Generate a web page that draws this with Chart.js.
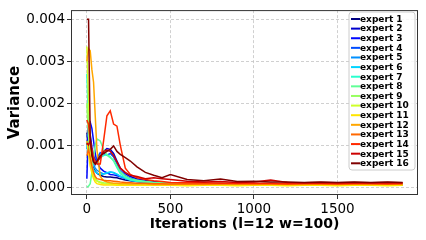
<!DOCTYPE html>
<html>
<head>
<meta charset="utf-8">
<script src="https://cdn.jsdelivr.net/npm/chart.js@4.4.0/dist/chart.umd.min.js"></script>
<style>
  html, body { margin: 0; padding: 0; background: #fff; }
  #wrap { width: 426px; height: 240px; }
</style>
</head>
<body>
<div id="wrap"><canvas id="varianceChart" width="426" height="240"></canvas></div>
<script>
// Iteration positions shared by every expert curve
const iters = [0, 10, 20, 30, 40, 50, 60, 80, 100, 120, 140, 160, 180, 200, 230, 260, 300, 350, 400, 450,
    500, 600, 700, 800, 900, 1000, 1100, 1200, 1300, 1400, 1500, 1600, 1700, 1800, 1890];

// Variance per expert, in units of 1e-3
const expert1 = [1.30,1.00,0.75,0.55,0.45,0.38,0.33,0.28,0.25,0.24,0.24,0.23,0.22,0.20,0.17,0.15,0.13,0.11,0.10,0.09,0.08,0.07,0.06,0.06,0.05,0.06,0.05,0.05,0.06,0.05,0.05,0.06,0.05,0.05,0.05];
const expert2 = [1.00,1.45,1.25,0.95,0.75,0.65,0.60,0.70,0.85,0.92,0.90,0.80,0.62,0.45,0.32,0.25,0.20,0.16,0.13,0.11,0.09,0.08,0.07,0.07,0.06,0.06,0.06,0.06,0.05,0.06,0.06,0.05,0.06,0.06,0.05];
const expert3 = [0.20,1.50,1.55,1.40,1.10,0.80,0.60,0.45,0.38,0.34,0.30,0.29,0.27,0.25,0.21,0.18,0.15,0.12,0.10,0.09,0.08,0.07,0.06,0.06,0.06,0.05,0.05,0.06,0.05,0.05,0.06,0.05,0.05,0.05,0.05];
const expert4 = [1.20,1.30,1.05,0.85,0.65,0.55,0.68,0.82,0.80,0.76,0.80,0.72,0.55,0.38,0.27,0.21,0.17,0.14,0.12,0.10,0.09,0.08,0.07,0.07,0.06,0.07,0.06,0.06,0.06,0.07,0.06,0.06,0.06,0.06,0.06];
const expert5 = [0.90,1.10,0.90,0.70,0.55,0.45,0.40,0.35,0.31,0.33,0.36,0.34,0.30,0.25,0.20,0.16,0.13,0.11,0.10,0.09,0.08,0.07,0.07,0.06,0.06,0.06,0.06,0.07,0.06,0.06,0.07,0.06,0.06,0.06,0.06];
const expert6 = [1.00,0.80,0.62,0.50,0.42,0.36,0.33,0.30,0.31,0.34,0.36,0.35,0.31,0.26,0.22,0.18,0.15,0.12,0.10,0.09,0.08,0.08,0.07,0.07,0.07,0.06,0.07,0.06,0.06,0.07,0.06,0.07,0.06,0.06,0.06];
const expert7 = [2.70,1.50,0.90,0.72,0.62,0.56,0.60,0.70,0.75,0.78,0.72,0.62,0.46,0.32,0.22,0.17,0.14,0.12,0.10,0.09,0.08,0.08,0.07,0.09,0.07,0.07,0.08,0.07,0.07,0.08,0.07,0.09,0.07,0.07,0.07];
const expert8 = [0.00,0.02,0.08,0.35,0.70,1.00,1.15,1.10,0.90,0.76,0.70,0.64,0.50,0.36,0.26,0.20,0.16,0.13,0.11,0.10,0.09,0.08,0.08,0.07,0.07,0.08,0.07,0.07,0.08,0.07,0.07,0.07,0.08,0.07,0.07];
const expert9 = [2.00,1.20,0.70,0.40,0.25,0.18,0.15,0.12,0.10,0.09,0.09,0.08,0.08,0.07,0.07,0.06,0.06,0.06,0.05,0.05,0.05,0.05,0.05,0.05,0.04,0.05,0.05,0.04,0.05,0.05,0.04,0.05,0.05,0.04,0.05];
const expert10 = [3.35,2.00,1.00,0.50,0.30,0.20,0.14,0.10,0.08,0.07,0.07,0.06,0.06,0.06,0.05,0.05,0.05,0.05,0.04,0.04,0.04,0.04,0.04,0.04,0.04,0.04,0.04,0.04,0.04,0.04,0.04,0.04,0.04,0.04,0.04];
const expert11 = [1.10,0.80,0.50,0.34,0.20,0.12,0.08,0.06,0.05,0.05,0.05,0.05,0.04,0.04,0.04,0.04,0.04,0.04,0.04,0.04,0.04,0.03,0.04,0.04,0.03,0.04,0.04,0.03,0.04,0.04,0.03,0.04,0.04,0.03,0.04];
const expert12 = [3.00,3.30,3.25,2.80,2.50,1.70,0.90,0.25,0.15,0.12,0.10,0.09,0.09,0.08,0.08,0.07,0.07,0.07,0.06,0.06,0.06,0.07,0.06,0.09,0.07,0.06,0.07,0.06,0.06,0.07,0.06,0.07,0.06,0.08,0.06];
const expert13 = [0.75,0.90,0.70,0.50,0.35,0.25,0.20,0.18,0.16,0.15,0.15,0.14,0.13,0.12,0.11,0.10,0.09,0.09,0.08,0.08,0.07,0.07,0.08,0.07,0.07,0.08,0.07,0.07,0.07,0.08,0.07,0.07,0.08,0.07,0.07];
const expert14 = [1.60,1.50,1.10,0.90,0.70,0.60,0.55,0.55,1.10,1.70,1.82,1.50,1.45,1.00,0.45,0.30,0.22,0.18,0.15,0.13,0.11,0.10,0.10,0.09,0.09,0.09,0.09,0.08,0.09,0.09,0.08,0.09,0.09,0.08,0.09];
const expert15 = [1.05,1.00,1.10,0.80,0.60,0.55,0.60,0.70,0.85,0.88,0.85,0.75,0.60,0.45,0.35,0.28,0.25,0.20,0.22,0.20,0.18,0.14,0.12,0.13,0.11,0.12,0.17,0.11,0.10,0.11,0.10,0.11,0.10,0.11,0.10];
const expert16 = [4.00,4.00,1.20,0.75,0.60,0.55,0.62,0.75,0.80,0.85,0.90,0.98,0.85,0.78,0.70,0.62,0.48,0.35,0.28,0.22,0.30,0.18,0.15,0.19,0.13,0.14,0.12,0.12,0.11,0.12,0.11,0.12,0.11,0.12,0.11];

const expertSeries = [expert1, expert2, expert3, expert4, expert5, expert6, expert7, expert8,
    expert9, expert10, expert11, expert12, expert13, expert14, expert15, expert16];
const expertLabels = expertSeries.map((_, i) => 'expert ' + (i + 1));

const yTicks = [0, 0.001, 0.002, 0.003, 0.004];
const yTickLabels = ['0.000', '0.001', '0.002', '0.003', '0.004'];
const xTicks = [0, 500, 1000, 1500];

// matplotlib "jet" colours sampled at 16 points
const jetColors = ['#000080', '#0000cd', '#0008ff', '#004dff', '#0091ff', '#00d4ff', '#29ffce', '#60ff97',
    '#97ff60', '#ceff29', '#ffe500', '#ffa700', '#ff6800', '#ff2900', '#cd0000', '#800000'];

const FONT = "'DejaVu Sans', sans-serif";

// Frame around plot + legend box drawn in the top-right corner
const framePlugin = {
    id: 'frame',
    afterDatasetsDraw(chart) {
        const { ctx, chartArea: a } = chart;
        ctx.save();
        ctx.strokeStyle = '#333';
        ctx.lineWidth = 1;
        ctx.strokeRect(a.left + 0.5, a.top + 0.5, a.right - a.left - 1, a.bottom - a.top - 1);

        // legend
        const bx = 349, by = 12, bw = 66, bh = 158, r = 3;
        ctx.fillStyle = 'rgba(255,255,255,0.85)';
        ctx.strokeStyle = '#cccccc';
        ctx.beginPath();
        ctx.moveTo(bx + r, by);
        ctx.arcTo(bx + bw, by, bx + bw, by + bh, r);
        ctx.arcTo(bx + bw, by + bh, bx, by + bh, r);
        ctx.arcTo(bx, by + bh, bx, by, r);
        ctx.arcTo(bx, by, bx + bw, by, r);
        ctx.closePath();
        ctx.fill();
        ctx.stroke();

        ctx.font = 'bold 9px ' + FONT;
        ctx.textBaseline = 'middle';
        ctx.textAlign = 'left';
        chart.data.datasets.forEach((ds, i) => {
            const y = by + 7 + i * 9.62;
            ctx.strokeStyle = ds.borderColor;
            ctx.lineWidth = 2;
            ctx.beginPath();
            ctx.moveTo(bx + 2, y);
            ctx.lineTo(bx + 11, y);
            ctx.stroke();
            ctx.fillStyle = '#000';
            ctx.fillText(ds.label, bx + 11, y + 0.5);
        });
        ctx.restore();
    }
};

const datasets = expertSeries.map((series, i) => ({
    label: expertLabels[i],
    data: series.map((v, j) => ({ x: iters[j], y: v / 1000 })),
    borderColor: jetColors[i],
    backgroundColor: jetColors[i],
    borderWidth: 1.5,
    pointRadius: 0,
    tension: 0,
    fill: false,
    order: expertSeries.length - i
}));

const gridOpts = {
    color: '#c4c4c4',
    lineWidth: 0.8,
    tickLength: 4,
    tickColor: '#333',
    tickBorderDash: [],
    tickWidth: 1
};

new Chart(document.getElementById('varianceChart'), {
    type: 'line',
    data: { datasets: datasets },
    options: {
        responsive: false,
        devicePixelRatio: 1,
        animation: false,
        layout: { padding: { top: 8, right: 8, left: 0, bottom: 0 } },
        plugins: {
            legend: { display: false },
            tooltip: { enabled: false }
        },
        scales: {
            x: {
                type: 'linear',
                min: -95,
                max: 1982,
                afterBuildTicks: scale => { scale.ticks = xTicks.map(v => ({ value: v })); },
                afterFit: scale => { scale.height = 45; },
                ticks: {
                    color: '#000',
                    padding: 2,
                    maxRotation: 0,
                    font: { family: FONT, size: 13.5 },
                    callback: v => String(v)
                },
                grid: gridOpts,
                border: { display: false, dash: [3, 2] },
                title: {
                    display: true,
                    text: 'Iterations (l=12 w=100)',
                    color: '#000',
                    font: { family: FONT, size: 14, weight: 'bold' },
                    padding: { top: 0, bottom: 7 }
                }
            },
            y: {
                min: -0.00019,
                max: 0.00422,
                afterBuildTicks: scale => { scale.ticks = yTicks.map(v => ({ value: v })); },
                afterFit: scale => { scale.width = 71; },
                ticks: {
                    color: '#000',
                    padding: 2,
                    font: { family: FONT, size: 13.5 },
                    callback: (v, idx) => yTickLabels[idx]
                },
                grid: gridOpts,
                border: { display: false, dash: [3, 2] },
                title: {
                    display: true,
                    text: 'Variance',
                    color: '#000',
                    font: { family: FONT, size: 15, weight: 'bold' },
                    padding: { top: 6, bottom: 0 }
                }
            }
        }
    },
    plugins: [framePlugin]
});
</script>
</body>
</html>
